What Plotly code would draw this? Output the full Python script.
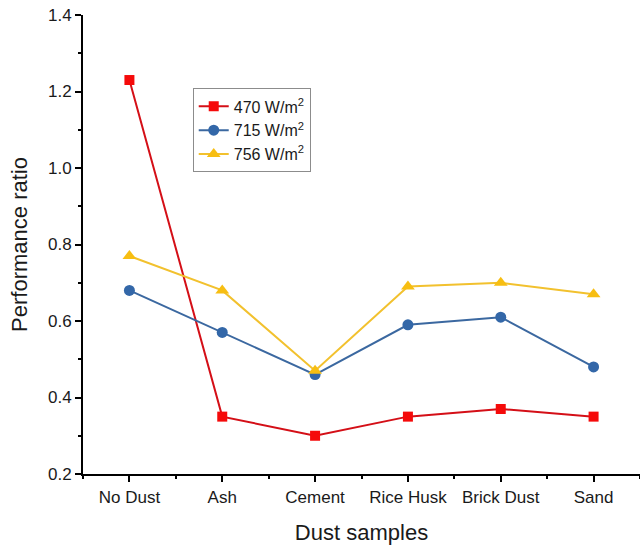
import plotly.graph_objects as go

categories = ["No Dust", "Ash", "Cement", "Rice Husk", "Brick Dust", "Sand"]
series_names = ["470 W/m<sup>2</sup>", "715 W/m<sup>2</sup>", "756 W/m<sup>2</sup>"]
pr_470 = [1.23, 0.35, 0.30, 0.35, 0.37, 0.35]
pr_715 = [0.68, 0.57, 0.46, 0.59, 0.61, 0.48]
pr_756 = [0.77, 0.68, 0.47, 0.69, 0.70, 0.67]
y_ticks = [0.2, 0.4, 0.6, 0.8, 1.0, 1.2, 1.4]

x = list(range(len(categories)))
styles = [
    dict(line_color="#D40F17", marker_color="#F50A0A", symbol="square", size=10),
    dict(line_color="#3B68A0", marker_color="#3367A8", symbol="circle", size=11),
    dict(line_color="#F2C12E", marker_color="#F7BE12", symbol="triangle-up", size=12),
]

fig = go.Figure()
for name, vals, st in zip(series_names, [pr_470, pr_715, pr_756], styles):
    fig.add_trace(go.Scatter(
        x=x, y=vals, name=name, mode="lines+markers",
        line=dict(color=st["line_color"], width=2),
        marker=dict(color=st["marker_color"], symbol=st["symbol"], size=st["size"],
                    line=dict(width=0)),
    ))

font_family = "Liberation Sans, Arial, sans-serif"
fig.update_layout(
    width=640, height=547,
    margin=dict(l=83, r=0, t=15, b=73, autoexpand=False),
    paper_bgcolor="white", plot_bgcolor="white",
    font=dict(family=font_family, color="#1a1a1a", size=17),
    showlegend=True,
    legend=dict(
        x=0.197, y=0.84, xanchor="left", yanchor="top",
        bordercolor="#8c8c8c", borderwidth=1, bgcolor="white",
        font=dict(size=16, family=font_family),
        tracegroupgap=0, itemwidth=30,
    ),
    xaxis=dict(
        range=[-0.5, 5.5], automargin=False,
        tickmode="array", tickvals=x, ticktext=categories,
        showline=True, linecolor="black", linewidth=2,
        ticks="outside", ticklen=6, tickwidth=1.5, tickcolor="black",
        ticklabelstandoff=1, ticklabeloverflow="allow",
        minor=dict(tick0=0, dtick=0.5, ticks="outside", ticklen=3, tickwidth=1.5, tickcolor="black"),
        showgrid=False, zeroline=False,
        tickfont=dict(size=17),
        title=dict(text="Dust samples", font=dict(size=22), standoff=18),
    ),
    yaxis=dict(
        range=[0.2, 1.4], automargin=False,
        tickmode="array", tickvals=y_ticks,
        ticktext=[f"{v:.1f}" for v in y_ticks],
        showline=True, linecolor="black", linewidth=2,
        ticks="outside", ticklen=6, tickwidth=1.5, tickcolor="black",
        ticklabeloverflow="allow",
        minor=dict(tick0=0.2, dtick=0.1, ticks="outside", ticklen=3, tickwidth=1.5, tickcolor="black"),
        showgrid=False, zeroline=False,
        tickfont=dict(size=17),
        title=dict(text="Performance ratio", font=dict(size=22), standoff=14),
    ),
)

fig.write_html("out.html", config={"displayModeBar": False},
               post_script="document.body.style.margin='0';")
